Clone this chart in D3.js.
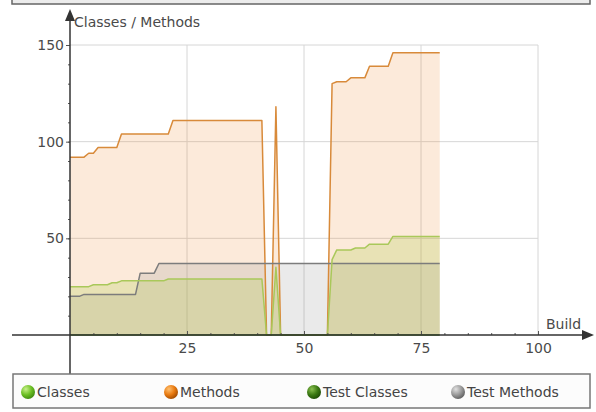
<!DOCTYPE html>
<html>
<head>
<meta charset="utf-8">
<script src="https://cdn.jsdelivr.net/npm/d3@7"></script>
<style>
  body { margin: 0; background: #fff; }
  svg { display: block; font-family: "DejaVu Sans", sans-serif; }
</style>
</head>
<body>
<div class="viz"></div>
<script>
// builds 0..79
const builds = d3.range(0, 80);

const methods = [
  92, 92, 92, 92, 94, 94, 97, 97, 97, 97, 97, 104, 104, 104, 104, 104, 104, 104, 104, 104,
  104, 104, 111, 111, 111, 111, 111, 111, 111, 111, 111, 111, 111, 111, 111, 111, 111, 111, 111, 111,
  111, 111, 0, 0, 118, 0, 0, 0, 0, 0, 0, 0, 0, 0, 0, 0, 130, 131, 131, 131,
  133, 133, 133, 133, 139, 139, 139, 139, 139, 146, 146, 146, 146, 146, 146, 146, 146, 146, 146, 146
];

const classes = [
  25, 25, 25, 25, 25, 26, 26, 26, 26, 27, 27, 28, 28, 28, 28, 28, 28, 28, 28, 28,
  28, 29, 29, 29, 29, 29, 29, 29, 29, 29, 29, 29, 29, 29, 29, 29, 29, 29, 29, 29,
  29, 29, 0, 0, 35, 0, 0, 0, 0, 0, 0, 0, 0, 0, 0, 0, 39, 44, 44, 44,
  44, 45, 45, 45, 47, 47, 47, 47, 47, 51, 51, 51, 51, 51, 51, 51, 51, 51, 51, 51
];

const testClasses = builds.map(() => 0);

const testMethods = [
  20, 20, 20, 21, 21, 21, 21, 21, 21, 21, 21, 21, 21, 21, 21, 32, 32, 32, 32, 37,
  37, 37, 37, 37, 37, 37, 37, 37, 37, 37, 37, 37, 37, 37, 37, 37, 37, 37, 37, 37,
  37, 37, 37, 37, 37, 37, 37, 37, 37, 37, 37, 37, 37, 37, 37, 37, 37, 37, 37, 37,
  37, 37, 37, 37, 37, 37, 37, 37, 37, 37, 37, 37, 37, 37, 37, 37, 37, 37, 37, 37
];

const xTicks = [25, 50, 75, 100];
const yTicks = [50, 100, 150];
const legendNames = ["Classes", "Methods", "Test Classes", "Test Methods"];

const width = 596, height = 412;

const svg = d3.select('.viz').append('svg')
    .attr('width', width)
    .attr('height', height);

const defs = svg.append('defs');

let x = d3.scaleLinear().domain([0, 100]).range([70, 538]);
let y = d3.scaleLinear().domain([0, 150]).range([335, 45]);

// top box (cut off)
svg.append('rect')
    .attr('x', 12).attr('y', -20)
    .attr('width', 578).attr('height', 24)
    .attr('fill', '#ececec')
    .attr('stroke', '#666').attr('stroke-width', 1.5);

// grid
const grid = svg.append('g').attr('class', 'grid');
grid.selectAll('line.h')
    .data(yTicks)
    .enter().append('line')
    .attr('x1', x(0)).attr('x2', x(100))
    .attr('y1', d => y(d)).attr('y2', d => y(d))
    .attr('stroke', '#d6d6d6').attr('stroke-width', 1);
grid.selectAll('line.v')
    .data(xTicks)
    .enter().append('line')
    .attr('x1', d => x(d)).attr('x2', d => x(d))
    .attr('y1', y(0)).attr('y2', y(150))
    .attr('stroke', '#d6d6d6').attr('stroke-width', 1);

const series = [
  { name: "Methods", values: methods, line: '#d88a3a', fill: 'rgb(240,140,50)', op: 0.18 },
  { name: "Test Methods", values: testMethods, line: '#7c7c7c', fill: 'rgb(136,136,136)', op: 0.18 },
  { name: "Classes", values: classes, line: '#a9c85a', fill: 'rgb(170,200,60)', op: 0.23 },
  { name: "Test Classes", values: testClasses, line: '#3d7a12', fill: 'rgb(60,120,20)', op: 0.2 }
];

const area = d3.area()
    .x((d, i) => x(builds[i]))
    .y0(y(0))
    .y1(d => y(d));

const line = d3.line()
    .x((d, i) => x(builds[i]))
    .y(d => y(d));

const plot = svg.append('g');

series.forEach(s => {
    plot.append('path')
        .datum(s.values)
        .attr('d', area)
        .attr('fill', s.fill)
        .attr('fill-opacity', s.op);
});
series.forEach(s => {
    plot.append('path')
        .datum(s.values)
        .attr('d', line)
        .attr('fill', 'none')
        .attr('stroke', s.line)
        .attr('stroke-width', 1.5)
        .attr('stroke-linejoin', 'round');
});

// axes
const axisColor = '#333';

// minor x ticks
svg.append('g')
    .attr('transform', 'translate(0,' + y(0) + ')')
    .call(d3.axisBottom(x).tickValues(d3.range(5, 100, 5)).tickSizeInner(-2).tickSizeOuter(0).tickFormat(''))
    .call(g => g.select('.domain').remove())
    .call(g => g.selectAll('line').attr('stroke', '#555'));

// major x ticks + labels
svg.append('g')
    .attr('transform', 'translate(0,' + y(0) + ')')
    .call(d3.axisBottom(x).tickValues(xTicks).tickSizeInner(-4).tickSizeOuter(0).tickPadding(8))
    .call(g => g.select('.domain').remove())
    .call(g => g.selectAll('line').attr('stroke', '#555'))
    .call(g => g.selectAll('text')
        .attr('font-size', 14)
        .attr('font-family', '"DejaVu Sans", sans-serif')
        .attr('fill', '#4a4a4a'));

// minor y ticks
svg.append('g')
    .attr('transform', 'translate(' + x(0) + ',0)')
    .call(d3.axisLeft(y).tickValues(d3.range(10, 160, 10)).tickSizeInner(2).tickSizeOuter(0).tickFormat(''))
    .call(g => g.select('.domain').remove())
    .call(g => g.selectAll('line').attr('stroke', '#555'));

// major y ticks + labels
svg.append('g')
    .attr('transform', 'translate(' + x(0) + ',0)')
    .call(d3.axisLeft(y).tickValues(yTicks).tickSizeInner(4).tickSizeOuter(0).tickPadding(2))
    .call(g => g.select('.domain').remove())
    .call(g => g.selectAll('line').attr('stroke', '#555'))
    .call(g => g.selectAll('text')
        .attr('font-size', 14)
        .attr('font-family', '"DejaVu Sans", sans-serif')
        .attr('fill', '#4a4a4a'));

// axis lines with arrows
svg.append('line')
    .attr('x1', 12).attr('x2', 586)
    .attr('y1', y(0)).attr('y2', y(0))
    .attr('stroke', axisColor).attr('stroke-width', 1.5);
svg.append('path')
    .attr('d', 'M' + 594 + ',' + y(0) + 'L' + 582 + ',' + (y(0) - 5) + 'L' + 582 + ',' + (y(0) + 5) + 'Z')
    .attr('fill', axisColor);

svg.append('line')
    .attr('x1', x(0)).attr('x2', x(0))
    .attr('y1', 18).attr('y2', 374)
    .attr('stroke', axisColor).attr('stroke-width', 1.5);
svg.append('path')
    .attr('d', 'M' + x(0) + ',9L' + (x(0) - 5) + ',21L' + (x(0) + 5) + ',21Z')
    .attr('fill', axisColor);

// axis titles
svg.append('text')
    .attr('x', 74).attr('y', 27)
    .attr('font-size', 14)
    .attr('fill', '#4a4a4a')
    .text('Classes / Methods');
svg.append('text')
    .attr('x', 546).attr('y', 329)
    .attr('font-size', 14)
    .attr('fill', '#4a4a4a')
    .text('Build');

// legend
svg.append('rect')
    .attr('x', 13).attr('y', 374)
    .attr('width', 577).attr('height', 34)
    .attr('fill', '#fcfcfc')
    .attr('stroke', '#777').attr('stroke-width', 1.5);

const ballColors = [
  ['#c8f08a', '#6cbf24', '#3f8a10'],
  ['#ffc070', '#e87a10', '#a04a00'],
  ['#8ac050', '#3c7a14', '#1c4a04'],
  ['#e0e0e0', '#9a9a9a', '#5e5e5e']
];
const legendX = [28, 171, 314, 458];

ballColors.forEach((c, i) => {
    const gr = defs.append('radialGradient')
        .attr('id', 'ball' + i)
        .attr('cx', '35%').attr('cy', '30%').attr('r', '75%');
    gr.append('stop').attr('offset', '0%').attr('stop-color', c[0]);
    gr.append('stop').attr('offset', '55%').attr('stop-color', c[1]);
    gr.append('stop').attr('offset', '100%').attr('stop-color', c[2]);
});

const leg = svg.append('g').selectAll('g')
    .data(legendNames)
    .enter().append('g');

leg.append('circle')
    .attr('cx', (d, i) => legendX[i])
    .attr('cy', 392)
    .attr('r', 7)
    .attr('fill', (d, i) => 'url(#ball' + i + ')');

leg.append('text')
    .attr('x', (d, i) => legendX[i] + 9)
    .attr('y', 397)
    .attr('font-size', 14)
    .attr('fill', '#444')
    .text(d => d);
</script>
</body>
</html>
